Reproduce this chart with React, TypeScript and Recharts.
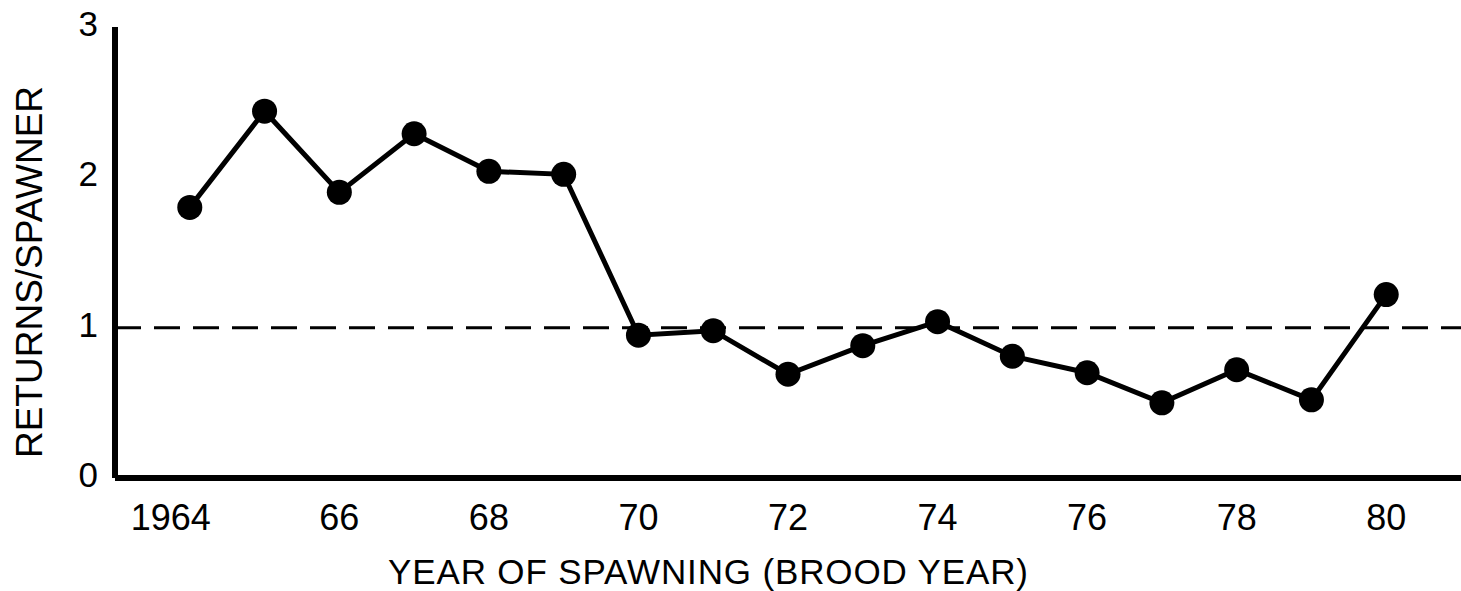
import { LineChart, Line, XAxis, YAxis, ReferenceLine } from 'recharts';

const years = [1964, 1965, 1966, 1967, 1968, 1969, 1970, 1971, 1972, 1973, 1974, 1975, 1976, 1977, 1978, 1979, 1980];
const returnsPerSpawner = [1.8, 2.44, 1.9, 2.29, 2.04, 2.02, 0.95, 0.98, 0.69, 0.88, 1.04, 0.81, 0.7, 0.5, 0.72, 0.52, 1.22];
const xTicks = [1964, 1966, 1968, 1970, 1972, 1974, 1976, 1978, 1980];
const xTickLabels = ['1964', '66', '68', '70', '72', '74', '76', '78', '80'];
const yTicks = [0, 1, 2, 3];

const FONT = '"Liberation Sans", Arial, sans-serif';

const data = years.map((year, i) => ({ year, value: returnsPerSpawner[i] }));

const XTick = ({ x, y, payload }: any) => {
  const idx = xTicks.indexOf(payload.value);
  const label = xTickLabels[idx] ?? String(payload.value);
  // the long first label sits a bit left of its point
  const dx = idx === 0 ? -19 : 0;
  return (
    <text x={x + dx} y={y + 44} textAnchor="middle" fontFamily={FONT} fontSize={36} fill="#000">
      {label}
    </text>
  );
};

const YTick = ({ x, y, payload }: any) => (
  <text x={x - 9} y={y + 9} textAnchor="end" fontFamily={FONT} fontSize={35} fill="#000">
    {payload.value}
  </text>
);

const XTitle = () => (
  <text x={708} y={584} textAnchor="middle" fontFamily={FONT} fontSize={35} fill="#000" textLength={640} lengthAdjust="spacing">
    YEAR OF SPAWNING  (BROOD YEAR)
  </text>
);

const YTitle = () => (
  <text
    x={42}
    y={272}
    transform="rotate(-90 42 272)"
    textAnchor="middle"
    fontFamily={FONT}
    fontSize={37}
    fill="#000"
  >
    RETURNS/SPAWNER
  </text>
);

export default function App() {
  return (
    <div style={{ position: 'absolute', left: 0, top: 0, background: '#fff' }}>
      <LineChart width={1461} height={591} data={data} margin={{ top: 27, right: 0, bottom: 0, left: 0 }}>
        <XAxis
          dataKey="year"
          type="number"
          domain={[1963, 1981]}
          ticks={xTicks}
          tick={<XTick />}
          tickLine={false}
          axisLine={{ stroke: '#000', strokeWidth: 6 }}
          height={113}
          label={{ content: () => <XTitle /> }}
        />
        <YAxis
          type="number"
          domain={[0, 3]}
          ticks={yTicks}
          tick={<YTick />}
          tickLine={false}
          axisLine={{ stroke: '#000', strokeWidth: 6 }}
          width={115}
          label={{ content: () => <YTitle /> }}
        />
        <ReferenceLine y={1} stroke="#000" strokeWidth={3} strokeDasharray="26 13" />
        <Line
          type="linear"
          dataKey="value"
          stroke="#000"
          strokeWidth={5}
          dot={{ r: 12.5, fill: '#000', stroke: '#000', strokeWidth: 0 }}
          isAnimationActive={false}
        />
      </LineChart>
    </div>
  );
}
